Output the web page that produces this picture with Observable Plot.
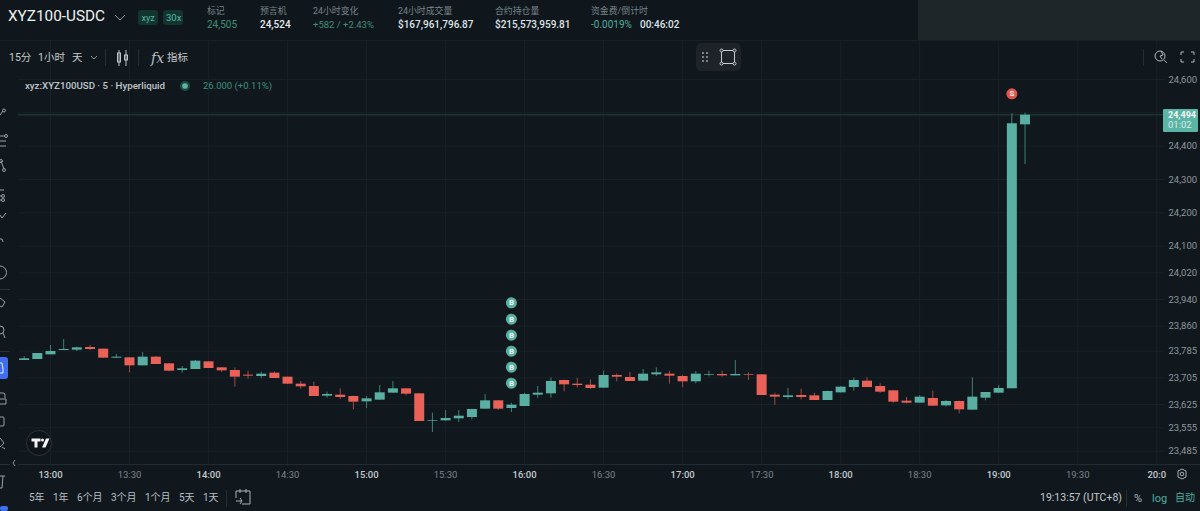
<!DOCTYPE html>
<html>
<head>
<meta charset="utf-8">
<script src="https://cdn.jsdelivr.net/npm/d3@7"></script>
<script src="https://cdn.jsdelivr.net/npm/@observablehq/plot@0.6"></script>
<style>
html,body{margin:0;padding:0;background:#10181e;overflow:hidden;width:1200px;height:511px;font-family:Roboto,"Noto Sans CJK SC",sans-serif}
#chart{position:absolute;left:0;top:0;width:1200px;height:511px}
#chart svg{display:block;background:transparent}
.t{position:absolute;white-space:nowrap;line-height:1;transform:translateY(-50%)}
.box{position:absolute}
#icons{position:absolute;left:0;top:0;z-index:5}
#chrome{position:absolute;left:0;top:0}
</style>
</head>
<body>
<div id="chart"></div>
<svg id="icons" width="1200" height="511" fill="none" stroke="#aab1b6" stroke-width="1"></svg>
<div id="chrome"></div>
<script>
const firstBar = "2024-01-01T12:50:00Z";
const opens = [23757,23760,23774,23787,23788,23796,23791,23764,23765,23741,23767,23747,23727,23730,23753,23735,23727,23713,23709,23719,23707,23686,23679,23650,23653,23649,23633,23638,23659,23672,23657,23575,23576,23582,23586,23611,23636,23613,23619,23653,23657,23697,23686,23683,23674,23712,23706,23695,23714,23716,23709,23693,23712,23715,23711,23715,23714,23653,23646,23652,23651,23637,23660,23676,23695,23679,23666,23635,23629,23643,23621,23634,23608,23644,23659,23672,24464];
const highs = [23769,23778,23802,23820,23797,23802,23791,23775,23766,23781,23769,23748,23739,23757,23754,23736,23735,23725,23722,23723,23707,23694,23692,23662,23672,23650,23649,23682,23694,23673,23658,23599,23607,23607,23611,23655,23637,23629,23659,23679,23705,23698,23704,23699,23725,23717,23721,23730,23735,23725,23713,23724,23725,23725,23757,23720,23715,23659,23673,23671,23659,23665,23679,23705,23706,23687,23667,23646,23652,23665,23637,23635,23705,23661,23682,24497,24499];
const lows = [23757,23760,23774,23787,23784,23787,23763,23763,23720,23741,23745,23723,23719,23730,23733,23721,23677,23701,23702,23703,23685,23671,23649,23644,23640,23609,23613,23638,23659,23651,23574,23541,23575,23571,23579,23611,23607,23601,23619,23643,23644,23663,23675,23671,23674,23693,23694,23695,23709,23686,23675,23687,23708,23707,23711,23697,23652,23622,23639,23639,23637,23637,23659,23665,23676,23659,23629,23627,23629,23620,23617,23597,23608,23636,23659,23672,24345];
const closes = [23762,23778,23784,23790,23795,23790,23764,23767,23741,23767,23745,23725,23732,23755,23733,23726,23707,23710,23716,23703,23686,23678,23649,23655,23646,23632,23642,23660,23672,23656,23574,23577,23583,23590,23610,23636,23611,23623,23655,23659,23694,23684,23682,23673,23712,23707,23694,23716,23720,23710,23693,23716,23714,23711,23715,23713,23652,23647,23651,23646,23637,23664,23677,23697,23676,23662,23632,23629,23647,23620,23634,23609,23647,23661,23673,24467,24493];

const buyTime = "2024-01-01T15:55:00Z";
const buyLevels = [23930,23881,23833,23785,23737,23689];
const sellTime = "2024-01-01T19:05:00Z";
const sellLevel = 24557;
const lastPrice = 24494;

const yTicks = [24600,24400,24300,24200,24100,24020,23940,23860,23785,23705,23625,23555,23485];
const yGrid = [24600,24500,24400,24300,24200,24100,24020,23940,23860,23785,23705,23625,23555,23485];
const hourTimes = ["13:00","14:00","15:00","16:00","17:00","18:00","19:00","20:00"];
const halfTimes = ["13:30","14:30","15:30","16:30","17:30","18:30","19:30"];
const toDate = s => new Date(`2024-01-01T${s}:00Z`);

const upBody="#59afa1", downBody="#ea6158", upWick="#3f7f76", downWick="#9c4c48";
const bars = opens.map((o,i)=>({
  t:new Date(+new Date(firstBar)+i*300000),open:o,high:highs[i],low:lows[i],close:closes[i],up:closes[i]>=o
}));
const buys = buyLevels.map(v=>({t:new Date(buyTime),v}));
const sells = [{t:new Date(sellTime),v:sellLevel}];

const gridColor="#182127";
const plot = Plot.plot({
  width:1200,height:511,marginTop:40,marginBottom:47,marginLeft:18,marginRight:35,
  x:{type:"utc",domain:[new Date("2024-01-01T12:47:51Z"),new Date("2024-01-01T20:03:20Z")]},
  y:{type:"linear",domain:[23445,24717]},
  style:{background:"transparent",overflow:"visible"},
  marks:[
    Plot.gridX([...hourTimes,...halfTimes].map(toDate),{x:d=>d,stroke:gridColor,strokeOpacity:1}),
    Plot.gridY(yGrid,{y:d=>d,stroke:gridColor,strokeOpacity:1}),
    Plot.ruleY([lastPrice],{stroke:"#24423f",strokeWidth:1}),
    Plot.axisY({anchor:"right",ticks:yTicks,tickFormat:d3.format(","),tickSize:0,tickPadding:3,label:null,fontSize:9.5,fill:"#8f979c",fontFamily:"Roboto"}),
    Plot.axisX({ticks:hourTimes.map(toDate),tickFormat:d=>{const s=d3.utcFormat("%H:%M")(d);return s==="20:00"?"20:0":s},tickSize:0,tickPadding:7,label:null,fontSize:9.5,fontWeight:500,fill:"#c4c9cd",fontFamily:"Roboto"}),
    Plot.axisX({ticks:halfTimes.map(toDate),tickFormat:d3.utcFormat("%H:%M"),tickSize:0,tickPadding:7,label:null,fontSize:9.5,fill:"#7c8489",fontFamily:"Roboto"}),
    Plot.ruleX(bars,{x:"t",y1:"low",y2:"high",stroke:d=>d.up?upWick:downWick,strokeWidth:1}),
    Plot.ruleX(bars,{x:"t",y1:"open",y2:"close",stroke:d=>d.up?upBody:downBody,strokeWidth:10}),
    Plot.dot(buys,{x:"t",y:"v",r:5.5,fill:upBody}),
    Plot.text(buys,{x:"t",y:"v",text:()=>"B",fill:"#f1f6f5",fontSize:8,fontWeight:700,fontFamily:"Roboto"}),
    Plot.dot(sells,{x:"t",y:"v",r:5.5,fill:"#e0544c"}),
    Plot.text(sells,{x:"t",y:"v",text:()=>"S",fill:"#f7eceb",fontSize:8,fontWeight:700,fontFamily:"Roboto"})
  ]
});
document.getElementById("chart").append(plot);

const chrome=document.getElementById("chrome");
const box=(l,t,w,h,bg,r=0,extra="")=>{const e=document.createElement("div");e.className="box";e.style.cssText=`left:${l}px;top:${t}px;width:${w}px;height:${h}px;background:${bg};border-radius:${r}px;${extra}`;chrome.append(e)};
const txt=(s,l,y,size,color,weight=400,extra="")=>{const e=document.createElement("div");e.className="t";e.textContent=s;e.style.cssText=`left:${l}px;top:${y}px;font-size:${size}px;color:${color};font-weight:${weight};${extra}`;chrome.append(e)};

box(918,0,282,41,"#1e2629");
box(0,0,918,40,"#0f171d",0,"border-radius:0 0 3px 0");
box(0,40,1200,1,"#182126");
box(18,464,1182,1,"#222b31");
box(0,289,10,1,"#2a3238");box(0,351,10,1,"#2a3238");box(0,464,10,1,"#2a3238");
box(0,357,8,22,"#3f6ff0",3,"border-radius:0 3px 3px 0");
box(0,506,8,5,"#3f6ff0",2);
box(138,10,20,15,"#12352f",3);box(163,10,20,15,"#12352f",3);
box(696,43,45,28,"#1e2229",5);

txt("XYZ100-USDC",8,17,15.3,"#eef1f2",400);
txt("xyz",141.5,17.5,9,"#5bb5a6");txt("30x",166,17.5,9.5,"#5bb5a6");
const heads=[["标记",207],["预言机",260],["24小时变化",313],["24小时成交量",398],["合约持仓量",495],["资金费/倒计时",591]];
heads.forEach(([s,x])=>txt(s,x,11,8.9,"#79858a"));
txt("24,505",207,24.5,10,"#3f8f78");
txt("24,524",260,24.5,10,"#e6eaec",500);
txt("+582 / +2.43%",313,24.5,9.5,"#3f8f78");
txt("$167,961,796.87",398,24.5,10,"#dfe3e6",500);
txt("$215,573,959.81",495,24.5,10,"#dfe3e6",500);
txt("-0.0019%",591,24.5,10,"#4fae9e");
txt("00:46:02",640,24.5,10,"#dfe3e6",500);

txt("15分",9,57.5,10.5,"#c4c9cd");txt("1小时",38,57.5,10.5,"#c4c9cd");txt("天",72,57.5,10.5,"#c4c9cd");
txt("指标",167,57.5,10.5,"#c4c9cd");
txt("fx",151,58,14,"#b9bfc3",400,"font-style:italic;font-family:'DejaVu Serif',serif");
txt("xyz:XYZ100USD · 5 · Hyperliquid",25,86,9.7,"#c1c6ca",500);
txt("26.000 (+0.11%)",203,86,9.5,"#3f8f78");

box(1163,109,35,23,"#5bb5a6",1);
txt("24,494",1168,115,9,"#f3f7f7",700);
txt("01:02",1168,125,9.5,"#d6ece8");

[["5年",29],["1年",53],["6个月",77],["3个月",111],["1个月",145],["5天",179],["1天",203]].forEach(([s,x])=>txt(s,x,498,10,"#b8bec2"));
txt("19:13:57 (UTC+8)",1040,498,10.5,"#c4c9cd");
txt("%",1134,498,11,"#aeb5b9");
txt("log",1152,498,11,"#4fae9e");
txt("自动",1175,498,10,"#4fae9e");
box(105,49,1,17,"#262e34");box(138,49,1,17,"#262e34");box(226,490,1,17,"#262e34");box(1126,490,1,17,"#262e34");box(1143,49,1,17,"#262e34");

document.getElementById("icons").innerHTML=`
<path d="M115 15l5 5 5-5" stroke="#8c959a"/>
<path d="M91 56l3 3 3-3" stroke="#8c959a"/>
<g stroke="#c0c6ca"><rect x="117.500" y="53" width="3" height="9"/><rect x="124.500" y="55" width="3" height="5"/><path d="M119 50v16M126 50v16"/></g>
<circle cx="185" cy="86" r="5" fill="#1f4a44" stroke="none"/><circle cx="185" cy="86" r="2.800" fill="#5bb5a6" stroke="none"/>
<g stroke="#8d959b" stroke-width="1.200"><circle cx="703" cy="53" r=".5"/><circle cx="707" cy="53" r=".5"/><circle cx="703" cy="57" r=".5"/><circle cx="707" cy="57" r=".5"/><circle cx="703" cy="61" r=".5"/><circle cx="707" cy="61" r=".5"/></g>
<rect x="721.500" y="50.500" width="13" height="13" stroke="#c8cdd2"/>
<g stroke="#c8cdd2" fill="#1e2229"><circle cx="721.500" cy="50.500" r="1.500"/><circle cx="734.500" cy="50.500" r="1.500"/><circle cx="721.500" cy="63.500" r="1.500"/><circle cx="734.500" cy="63.500" r="1.500"/></g>
<g stroke="#b0b7bb"><circle cx="1160" cy="56" r="5"/><path d="M1164 60l3 3M1161 51l2 4-3 1 2 3"/><path d="M1181 55v-3h3M1191 52h3v3M1181 59v3h3M1194 59v3h-3"/></g>
<g stroke="#aab1b6"><path d="M236 491h14v13h-8M236 491v7M240 489v4M246 489v4M236 501h6M240 498l2 3-2 3"/></g>
<g stroke="#aab1b6"><polygon points="1182,469 1186,471 1186,477 1182,479 1178,477 1178,471"/><circle cx="1182" cy="474" r="1.800"/></g>
<circle cx="39" cy="443" r="12.500" fill="#0e141a" stroke="#2c3238"/>
<path d="M31.500 438.500h9v3h-3v6h-3v-6h-3z M46 438.500h3.500l-4 9h-3.500z" fill="#f2f4f5" stroke="none"/><circle cx="42.500" cy="440" r="1.500" fill="#f2f4f5" stroke="none"/>
<path d="M15 460l-2 3 2 3" stroke="#8c959a"/>
<g stroke="#9aa2a7">
<path d="M0 115l3-4"/><circle cx="4" cy="110.500" r="1.500"/>
<path d="M0 136h4M0 141h6M0 146h6"/><circle cx="6" cy="136" r="1.500"/>
<path d="M1 161l3 8"/><circle cx="1" cy="161" r="1.500"/><circle cx="4" cy="170" r="1.500"/>
<path d="M0 190h4M0 196h2M0 200h2"/><circle cx="3" cy="196" r="1.500"/><circle cx="3" cy="200" r="1.500"/>
<path d="M0 215l2 3 4-5"/><path d="M0 239h2l1 3"/>
<path d="M0 266a6.500 6.500 0 0 1 0 13"/>
<path d="M0 298l5 4-3 5-2-1"/><circle cx="0" cy="330" r="4"/><path d="M3 333l2 5"/>
<path d="M0 393h3a2 2 0 0 1 2 2v3M0 399h6v5h-6" /><path d="M0 417h3a1 1 0 0 1 1 1v7a1 1 0 0 1-1 1h-3"/>
<path d="M0 438l4 5-4 4M2 447l3 2"/><path d="M0 476h5M3 476l-1 12h-2"/>
<path d="M0 363h2l1 6v4h-3" stroke="#e8edff"/></g>`;
</script>
</body>
</html>
